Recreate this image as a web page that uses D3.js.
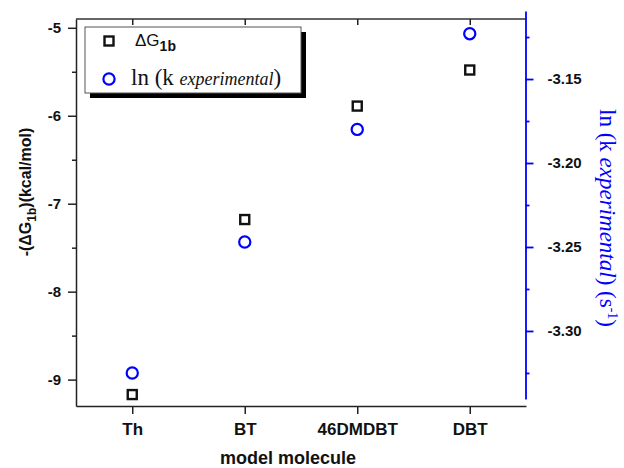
<!DOCTYPE html>
<html lang="en">
<head>
    <meta charset="UTF-8">
    <title>Delta G vs ln k</title>
    <script src="https://d3js.org/d3.v7.min.js"></script>
    <style>
        body { margin: 0; background: #fff; }
        text { font-family: "Liberation Sans", Arial, sans-serif; fill: #111; }
        .serif { font-family: "Liberation Serif", "Times New Roman", serif; }
        .axis path, .axis line { stroke: #222; stroke-width: 1.5; }
        .raxis path, .raxis line { stroke: #0000ff; stroke-width: 1.8; }
    </style>
</head>
<body>
    <svg width="624" height="468"></svg>
    <script>
        // data
        const categories = ["Th", "BT", "46DMDBT", "DBT"];
        const deltaG = [-9.17, -7.18, -5.89, -5.48];
        const lnK = [-3.325, -3.247, -3.180, -3.123];
        const leftTicks = [-5, -6, -7, -8, -9];
        const leftMinor = [-5.5, -6.5, -7.5, -8.5];
        const rightTicks = [-3.15, -3.20, -3.25, -3.30];
        const rightMinor = [-3.125, -3.175, -3.225, -3.275, -3.325];

        const svg = d3.select("svg");
        const pL = 76, pR = 526, pT = 19, pB = 406;
        const hyphen = f => d => f(d).replace("\u2212", "-");

        const x = d3.scalePoint().domain(categories).range([pL, pR]).padding(0.5);
        const yL = d3.scaleLinear().domain([-9.3, -4.9]).range([pB, pT]);
        const yR = d3.scaleLinear().domain([-3.3405, -3.1095]).range([399, 11]);

        // frame top line with inward ticks
        svg.append("line").attr("x1", pL).attr("x2", pR).attr("y1", pT).attr("y2", pT)
            .attr("stroke", "#333").attr("stroke-width", 1.5);
        svg.append("g").attr("class", "axis").attr("transform", "translate(0," + pT + ")")
            .call(d3.axisBottom(x).tickSize(6).tickFormat(""))
            .select(".domain").remove();

        // bottom axis
        const gx = svg.append("g").attr("class", "axis").attr("transform", "translate(0," + pB + ")")
            .call(d3.axisBottom(x).tickSize(8).tickSizeOuter(0).tickPadding(9));
        gx.selectAll("text").style("font-size", "17px").style("font-weight", "bold").attr("fill", "#222");

        // left axis
        const gl = svg.append("g").attr("class", "axis").attr("transform", "translate(" + pL + ",0)")
            .call(d3.axisLeft(yL).tickValues(leftTicks).tickSize(8).tickSizeOuter(0).tickPadding(7).tickFormat(hyphen(d3.format("d"))));
        gl.selectAll("text").style("font-size", "15px").style("font-weight", "bold").attr("fill", "#222");
        svg.append("g").attr("class", "axis").attr("transform", "translate(" + pL + ",0)")
            .call(d3.axisLeft(yL).tickValues(leftMinor).tickSize(4).tickFormat(""))
            .select(".domain").remove();

        // right axis (blue)
        const gr = svg.append("g").attr("class", "raxis").attr("transform", "translate(" + 525.5 + ",0)")
            .call(d3.axisRight(yR).tickValues(rightTicks).tickSize(8).tickSizeOuter(0).tickPadding(14).tickFormat(hyphen(d3.format(".2f"))));
        gr.selectAll("text").style("font-size", "15px").style("font-weight", "bold").attr("fill", "#222");
        svg.append("g").attr("class", "raxis").attr("transform", "translate(" + 525.5 + ",0)")
            .call(d3.axisRight(yR).tickValues(rightMinor).tickSize(4).tickFormat(""))
            .select(".domain").remove();

        // markers
        svg.append("g").selectAll("rect").data(categories).join("rect")
            .attr("x", d => x(d) - 4.5)
            .attr("y", (d, i) => yL(deltaG[i]) - 4.5)
            .attr("width", 9).attr("height", 9)
            .attr("fill", "none").attr("stroke", "#111").attr("stroke-width", 2.4);
        svg.append("g").selectAll("circle").data(categories).join("circle")
            .attr("cx", d => x(d))
            .attr("cy", (d, i) => yR(lnK[i]))
            .attr("r", 5.6)
            .attr("fill", "none").attr("stroke", "#0000ff").attr("stroke-width", 2.2);

        // legend
        const lg = svg.append("g");
        lg.append("rect").attr("x", 90).attr("y", 32).attr("width", 216).attr("height", 66).attr("fill", "#000");
        lg.append("rect").attr("x", 85).attr("y", 27).attr("width", 216).attr("height", 66)
            .attr("fill", "#fff").attr("stroke", "#555").attr("stroke-width", 1);
        lg.append("rect").attr("x", 104.5).attr("y", 36.5).attr("width", 9).attr("height", 9)
            .attr("fill", "none").attr("stroke", "#111").attr("stroke-width", 2.4);
        const t1 = lg.append("text").attr("x", 135).attr("y", 46).style("font-size", "17px");
        t1.append("tspan").text("\u0394G");
        t1.append("tspan").attr("dy", 5).style("font-size", "14px").style("font-weight", "bold").text("1b");
        lg.append("circle").attr("cx", 109).attr("cy", 79).attr("r", 5.6)
            .attr("fill", "none").attr("stroke", "#0000ff").attr("stroke-width", 2.2);
        const t2 = lg.append("text").attr("class", "serif").attr("x", 131).attr("y", 85).style("font-size", "23px");
        t2.append("tspan").text("ln (k ");
        t2.append("tspan").style("font-style", "italic").style("font-size", "18px").text("experimental");
        t2.append("tspan").text(")");

        // axis titles
        svg.append("text").attr("x", 288).attr("y", 464).attr("text-anchor", "middle")
            .style("font-size", "18px").style("font-weight", "bold").attr("fill", "#222").text("model molecule");

        const tl = svg.append("text").attr("transform", "translate(31,192) rotate(-90)")
            .attr("text-anchor", "middle").style("font-size", "16px").style("font-weight", "bold").attr("fill", "#222");
        tl.append("tspan").text("-(\u0394G");
        tl.append("tspan").attr("dy", 5).style("font-size", "12px").text("1b");
        tl.append("tspan").attr("dy", -5).text(")(kcal/mol)");

        const tr = svg.append("text").attr("class", "serif").attr("transform", "translate(600,218) rotate(90)")
            .attr("text-anchor", "middle").style("font-size", "23px").style("fill", "#0000ff");
        tr.append("tspan").text("ln (k ");
        tr.append("tspan").style("font-style", "italic").text("experimental");
        tr.append("tspan").text(") (s");
        tr.append("tspan").attr("dy", -8).style("font-size", "14px").text("-1");
        tr.append("tspan").attr("dy", 8).text(")");
    </script>
</body>
</html>
